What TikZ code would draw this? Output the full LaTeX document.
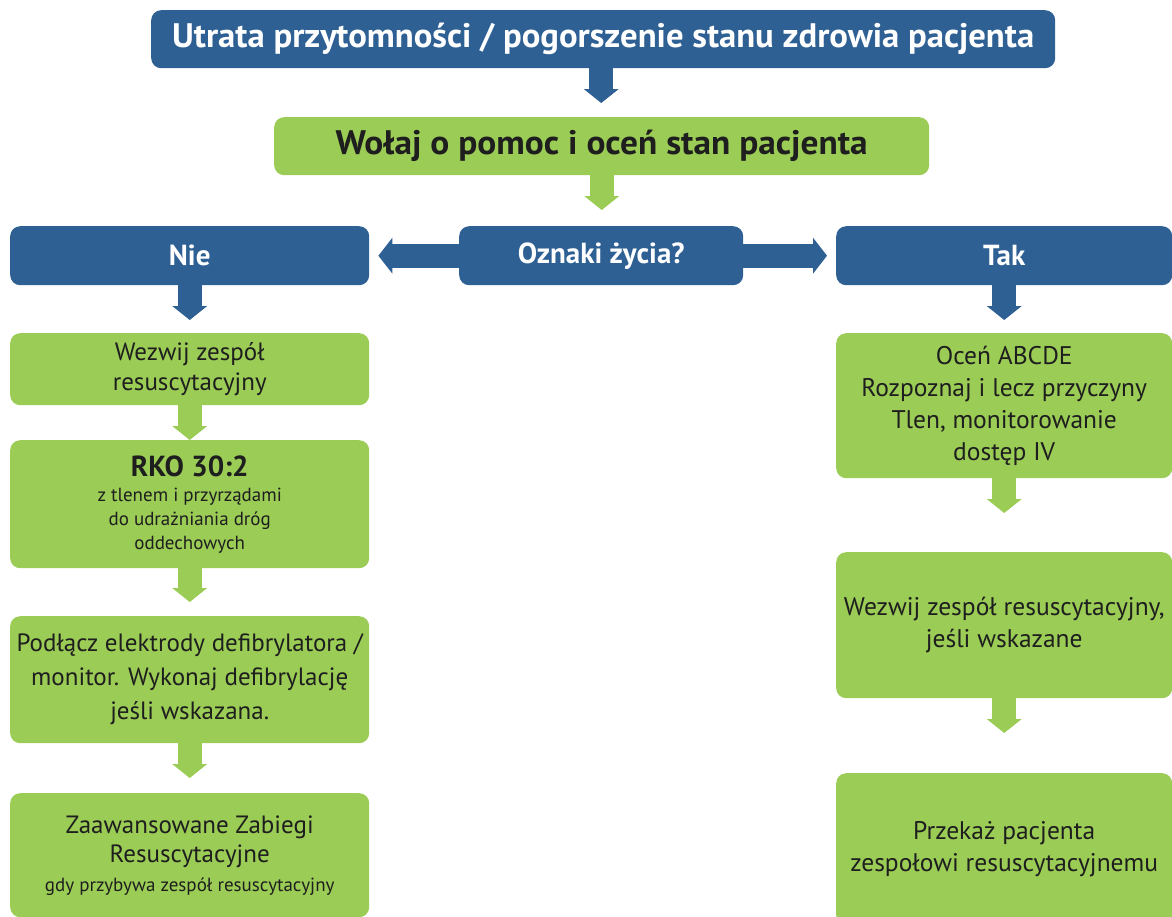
\documentclass[tikz,border=0pt]{standalone}
\usepackage{fontspec}
\setmainfont{PT Sans}
\usetikzlibrary{arrows.meta}
\definecolor{cblue}{RGB}{46,96,148}
\definecolor{cgreen}{RGB}{155,204,86}
\definecolor{ctext}{RGB}{30,30,30}
\newcommand\fs[2]{\fontsize{#1}{#2}\selectfont}
\tikzset{
  box/.style={rounded corners=10pt, inner sep=0pt, align=center, anchor=north west},
  bluebox/.style={box, fill=cblue, text=white, font=\fs{29}{32}\bfseries},
  greenbox/.style={box, fill=cgreen, text=ctext},
  vtip/.style={-{Triangle[width=35pt,length=14pt,line width=0pt]}},
  varrow/.style={vtip, line width=24pt},
  harrow/.style={-{Triangle[width=36pt,length=14pt,line width=0pt]}, line width=24pt, draw=cblue},
  bluearrow/.style={varrow, draw=cblue},
  greenarrow/.style={varrow, draw=cgreen},
}
\begin{document}
\begin{tikzpicture}[x=1pt,y=-1pt]
\useasboundingbox (0,0) rectangle (1172,916);
% top row
\node[bluebox, minimum width=904pt, minimum height=58pt] (title) at (151,10)
  {\resizebox{862pt}{\height}{\fs{34}{36}\bfseries Utrata przytomności / pogorszenie stanu zdrowia pacjenta}};
\node[greenbox, minimum width=655pt, minimum height=58pt] (assess) at (274,117)
  {\resizebox{532pt}{\height}{\fs{34}{36}\bfseries Wołaj o pomoc i oceń stan pacjenta}};
% decision row
\node[bluebox, minimum width=284pt, minimum height=59pt] (signs) at (459,226)
  {Oznaki życia?};
\node[bluebox, minimum width=359pt, minimum height=59pt] (no) at (10,226)
  {\raisebox{-2pt}{Nie}};
\node[bluebox, minimum width=336pt, minimum height=59pt] (yes) at (836,226)
  {Tak};
% left column
\node[greenbox, font=\fs{25}{30}, minimum width=359pt, minimum height=72pt] (callL) at (10,333)
  {Wezwij zespół\\resuscytacyjny};
\node[greenbox, font=\fs{19}{24}, minimum width=359pt, minimum height=128pt] (cpr) at (10,440)
  {{\fs{29}{30}\bfseries RKO 30:2}\\[1pt]z tlenem i przyrządami\\do udrażniania dróg\\oddechowych};
\node[greenbox, font=\fs{25}{34}, minimum width=359pt, minimum height=127pt] (defib) at (10,616)
  {Podłącz elektrody defibrylatora /\\monitor. Wykonaj defibrylację\\jeśli wskazana.};
\node[greenbox, font=\fs{25}{29}, minimum width=359pt, minimum height=124pt] (als) at (10,793)
  {Zaawansowane Zabiegi\\Resuscytacyjne\\{\fs{19}{28}gdy przybywa zespół resuscytacyjny}};
% right column
\node[greenbox, font=\fs{25.5}{32}, minimum width=336pt, minimum height=145pt] (abcde) at (836,333)
  {Oceń ABCDE\\Rozpoznaj i lecz przyczyny\\Tlen, monitorowanie\\dostęp IV};
\node[greenbox, font=\fs{25.5}{32}, minimum width=336pt, minimum height=146pt] (callR) at (836,552)
  {Wezwij zespół resuscytacyjny,\\jeśli wskazane};
\node[greenbox, font=\fs{25.5}{32}, minimum width=336pt, minimum height=152pt] (handover) at (836,773)
  {Przekaż pacjenta\\zespołowi resuscytacyjnemu};
% connectors
\draw[bluearrow, shorten >=14pt] (title.south -| signs.north) -- (signs.north |- assess.north);
\draw[greenarrow, shorten >=16pt] (assess.south) -- (assess.south |- signs.north);
\draw[harrow, shorten >=9pt] (signs.west) -- (no.east);
\draw[harrow, shorten >=9pt] (signs.east) -- (yes.west);
\draw[bluearrow, shorten >=13pt] (no.south) -- (callL.north);
\draw[greenarrow] (callL.south) -- (cpr.north);
\draw[greenarrow, shorten >=14pt] (cpr.south) -- (defib.north);
\draw[greenarrow, shorten >=15pt] (defib.south) -- (als.north);
\draw[bluearrow, shorten >=13pt] (yes.south) -- (abcde.north);
\draw[greenarrow, shorten >=39pt] (abcde.south) -- (callR.north);
\draw[greenarrow, shorten >=40pt] (callR.south) -- (handover.north);
\end{tikzpicture}
\end{document}
